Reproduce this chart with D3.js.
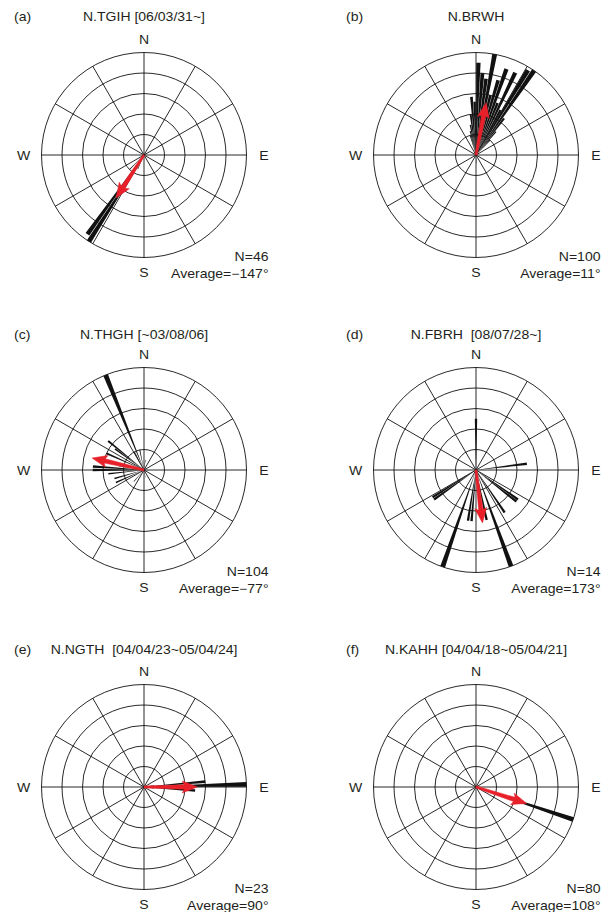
<!DOCTYPE html>
<html>
<head>
<meta charset="utf-8">
<script src="https://cdn.jsdelivr.net/npm/d3@7"></script>
<style>
  html, body { margin: 0; padding: 0; background: #fff; }
  svg { display: block; }
  text { font-family: "Liberation Sans", Arial, sans-serif; font-size: 12px; fill: #231f20; white-space: pre; }
</style>
</head>
<body>
<svg id="chart" width="613" height="912"></svg>
<script>
// ---------------- data ----------------
const panelLabels = ["(a)", "(b)", "(c)", "(d)", "(e)", "(f)"];
const stationTitles = [
  "N.TGIH [06/03/31~]",
  "N.BRWH",
  "N.THGH [~03/08/06]",
  "N.FBRH  [08/07/28~]",
  "N.NGTH  [04/04/23~05/04/24]",
  "N.KAHH [04/04/18~05/04/21]"
];
const sampleCounts = [46, 100, 104, 14, 23, 80];
const averageAngles = [-147, 11, -77, 173, 90, 108];
const arrowLengths = [0.50, 0.52, 0.52, 0.52, 0.52, 0.52]; // fraction of outer ring
const compassLabels = ["N", "E", "S", "W"];
const spokeAngles = [0, 30, 60, 90, 120, 150, 180, 210, 240, 270, 300, 330];
const ringFractions = [0.2, 0.4, 0.6, 0.8, 1.0];

// bars: [azimuth (deg, clockwise from N), count]
const barsA = [[-147.5, 20], [-144.5, 19], [-135, 4], [-156, 3]];
const barsB = [
  [-16.5, 2], [-13.5, 2.4], [-10.5, 3], [-7.5, 4], [-4.5, 5.7], [-1.5, 5.2],
  [1.5, 9], [4.5, 8], [7.5, 7.5], [10.5, 10], [13.5, 6], [16.5, 7.6],
  [19.5, 8.9], [22.5, 5.5], [25.5, 8.9], [28.5, 5], [31.5, 9.7], [34.5, 10],
  [37.5, 4.5], [40.5, 3], [43.5, 2], [175.5, 0.8]
];
const barsC = [
  [-22, 20], [-28, 4], [-12, 4], [-51, 9], [-54, 7], [-66, 8], [-75, 5], [-80, 5],
  [-86, 10], [-90, 10], [-96, 7], [-106, 6], [-114, 6], [-139, 3], [8, 2], [170, 1.5], [95, 1]
];
const barsD = [
  [0, 1], [83, 1], [125, 1], [128, 1], [146, 1], [160, 2], [168, 1],
  [-175, 1], [-171, 1], [-161, 2], [-125, 1], [-122, 1]
];
const barsE = [[88.5, 10], [85, 6], [94, 5], [80, 1], [97, 1]];
const barsF = [[108.5, 80]];
const allBars = [barsA, barsB, barsC, barsD, barsE, barsF];

// ---------------- layout ----------------
const colX = [144, 476];
const rowY = [155, 470, 787];
const R = 102.5;
const barWidth = 2.7; // degrees drawn per 3-degree bin (leaves a hairline gap)
const arrowColor = "#e8202a";
const sx = 1.17; // horizontal stretch of the lettering

const svg = d3.select("#chart");
const rad = d => d * Math.PI / 180;

function label(g, x, y, str, anchor) {
  g.append("text")
    .attr("transform", `translate(${x},${y}) scale(${sx},1)`)
    .attr("text-anchor", anchor)
    .text(str);
}

panelLabels.forEach((lab, i) => {
  const cx = colX[i % 2], cy = rowY[Math.floor(i / 2)];
  const bars = allBars[i];
  const maxCount = d3.max(bars, d => d[1]);
  const r = d3.scaleLinear().domain([0, maxCount]).range([0, R]);
  const rf = d3.scaleLinear().domain([0, 1]).range([0, R]);

  const g = svg.append("g");
  const plot = g.append("g").attr("transform", `translate(${cx},${cy})`);

  // grid circles
  plot.selectAll("circle.ring").data(ringFractions).join("circle")
    .attr("class", "ring")
    .attr("r", d => rf(d))
    .attr("fill", "none")
    .attr("stroke", "#111")
    .attr("stroke-width", 0.9);

  // spokes
  plot.selectAll("line.spoke").data(spokeAngles).join("line")
    .attr("class", "spoke")
    .attr("x1", 0).attr("y1", 0)
    .attr("x2", d => rf(1) * Math.sin(rad(d)))
    .attr("y2", d => -rf(1) * Math.cos(rad(d)))
    .attr("stroke", "#111")
    .attr("stroke-width", 0.9);

  // bars
  const arc = d3.arc()
    .innerRadius(0)
    .outerRadius(d => r(d[1]))
    .startAngle(d => rad(d[0] - barWidth / 2))
    .endAngle(d => rad(d[0] + barWidth / 2));
  plot.selectAll("path.bar").data(bars).join("path")
    .attr("class", "bar")
    .attr("d", arc)
    .attr("fill", "#111");

  // mean direction arrow
  const a = rad(averageAngles[i]);
  const L = rf(arrowLengths[i]);
  const headLen = 14, headHalf = 6, shaftBase = 1.0, shaftTop = 2.2;
  const ux = Math.sin(a), uy = -Math.cos(a);   // unit along
  const px = Math.cos(a), py = Math.sin(a);    // unit perpendicular
  const pt = (along, side) => [along * ux + side * px, along * uy + side * py];
  const pts = [
    pt(0, -shaftBase), pt(L - headLen + 1, -shaftTop), pt(L - headLen - 1, -headHalf),
    pt(L, 0),
    pt(L - headLen - 1, headHalf), pt(L - headLen + 1, shaftTop), pt(0, shaftBase)
  ];
  plot.append("path")
    .attr("d", d3.line()(pts) + "Z")
    .attr("fill", arrowColor)
    .attr("stroke", arrowColor)
    .attr("stroke-width", 0.5)
    .attr("stroke-linejoin", "miter");

  // compass letters
  const compassPos = [
    [cx, cy - 111.5], [cx + 120, cy + 4.5], [cx, cy + 122], [cx - 120.5, cy + 4.5]
  ];
  compassLabels.forEach((c, k) => label(g, compassPos[k][0], compassPos[k][1], c, "middle"));

  // titles
  const ty = cy - (i < 2 ? 134 : i < 4 ? 131 : 133.5);
  label(g, cx - 130, ty, lab, "start");
  label(g, cx, ty, stationTitles[i], "middle");

  // statistics
  const avg = averageAngles[i];
  const avgStr = (avg < 0 ? "\u2212" + Math.abs(avg) : String(avg)) + "\u00b0";
  label(g, cx + 124.5, cy + 106, "N=" + sampleCounts[i], "end");
  label(g, cx + 124.5, cy + 123, "Average=" + avgStr, "end");
});
</script>
</body>
</html>
